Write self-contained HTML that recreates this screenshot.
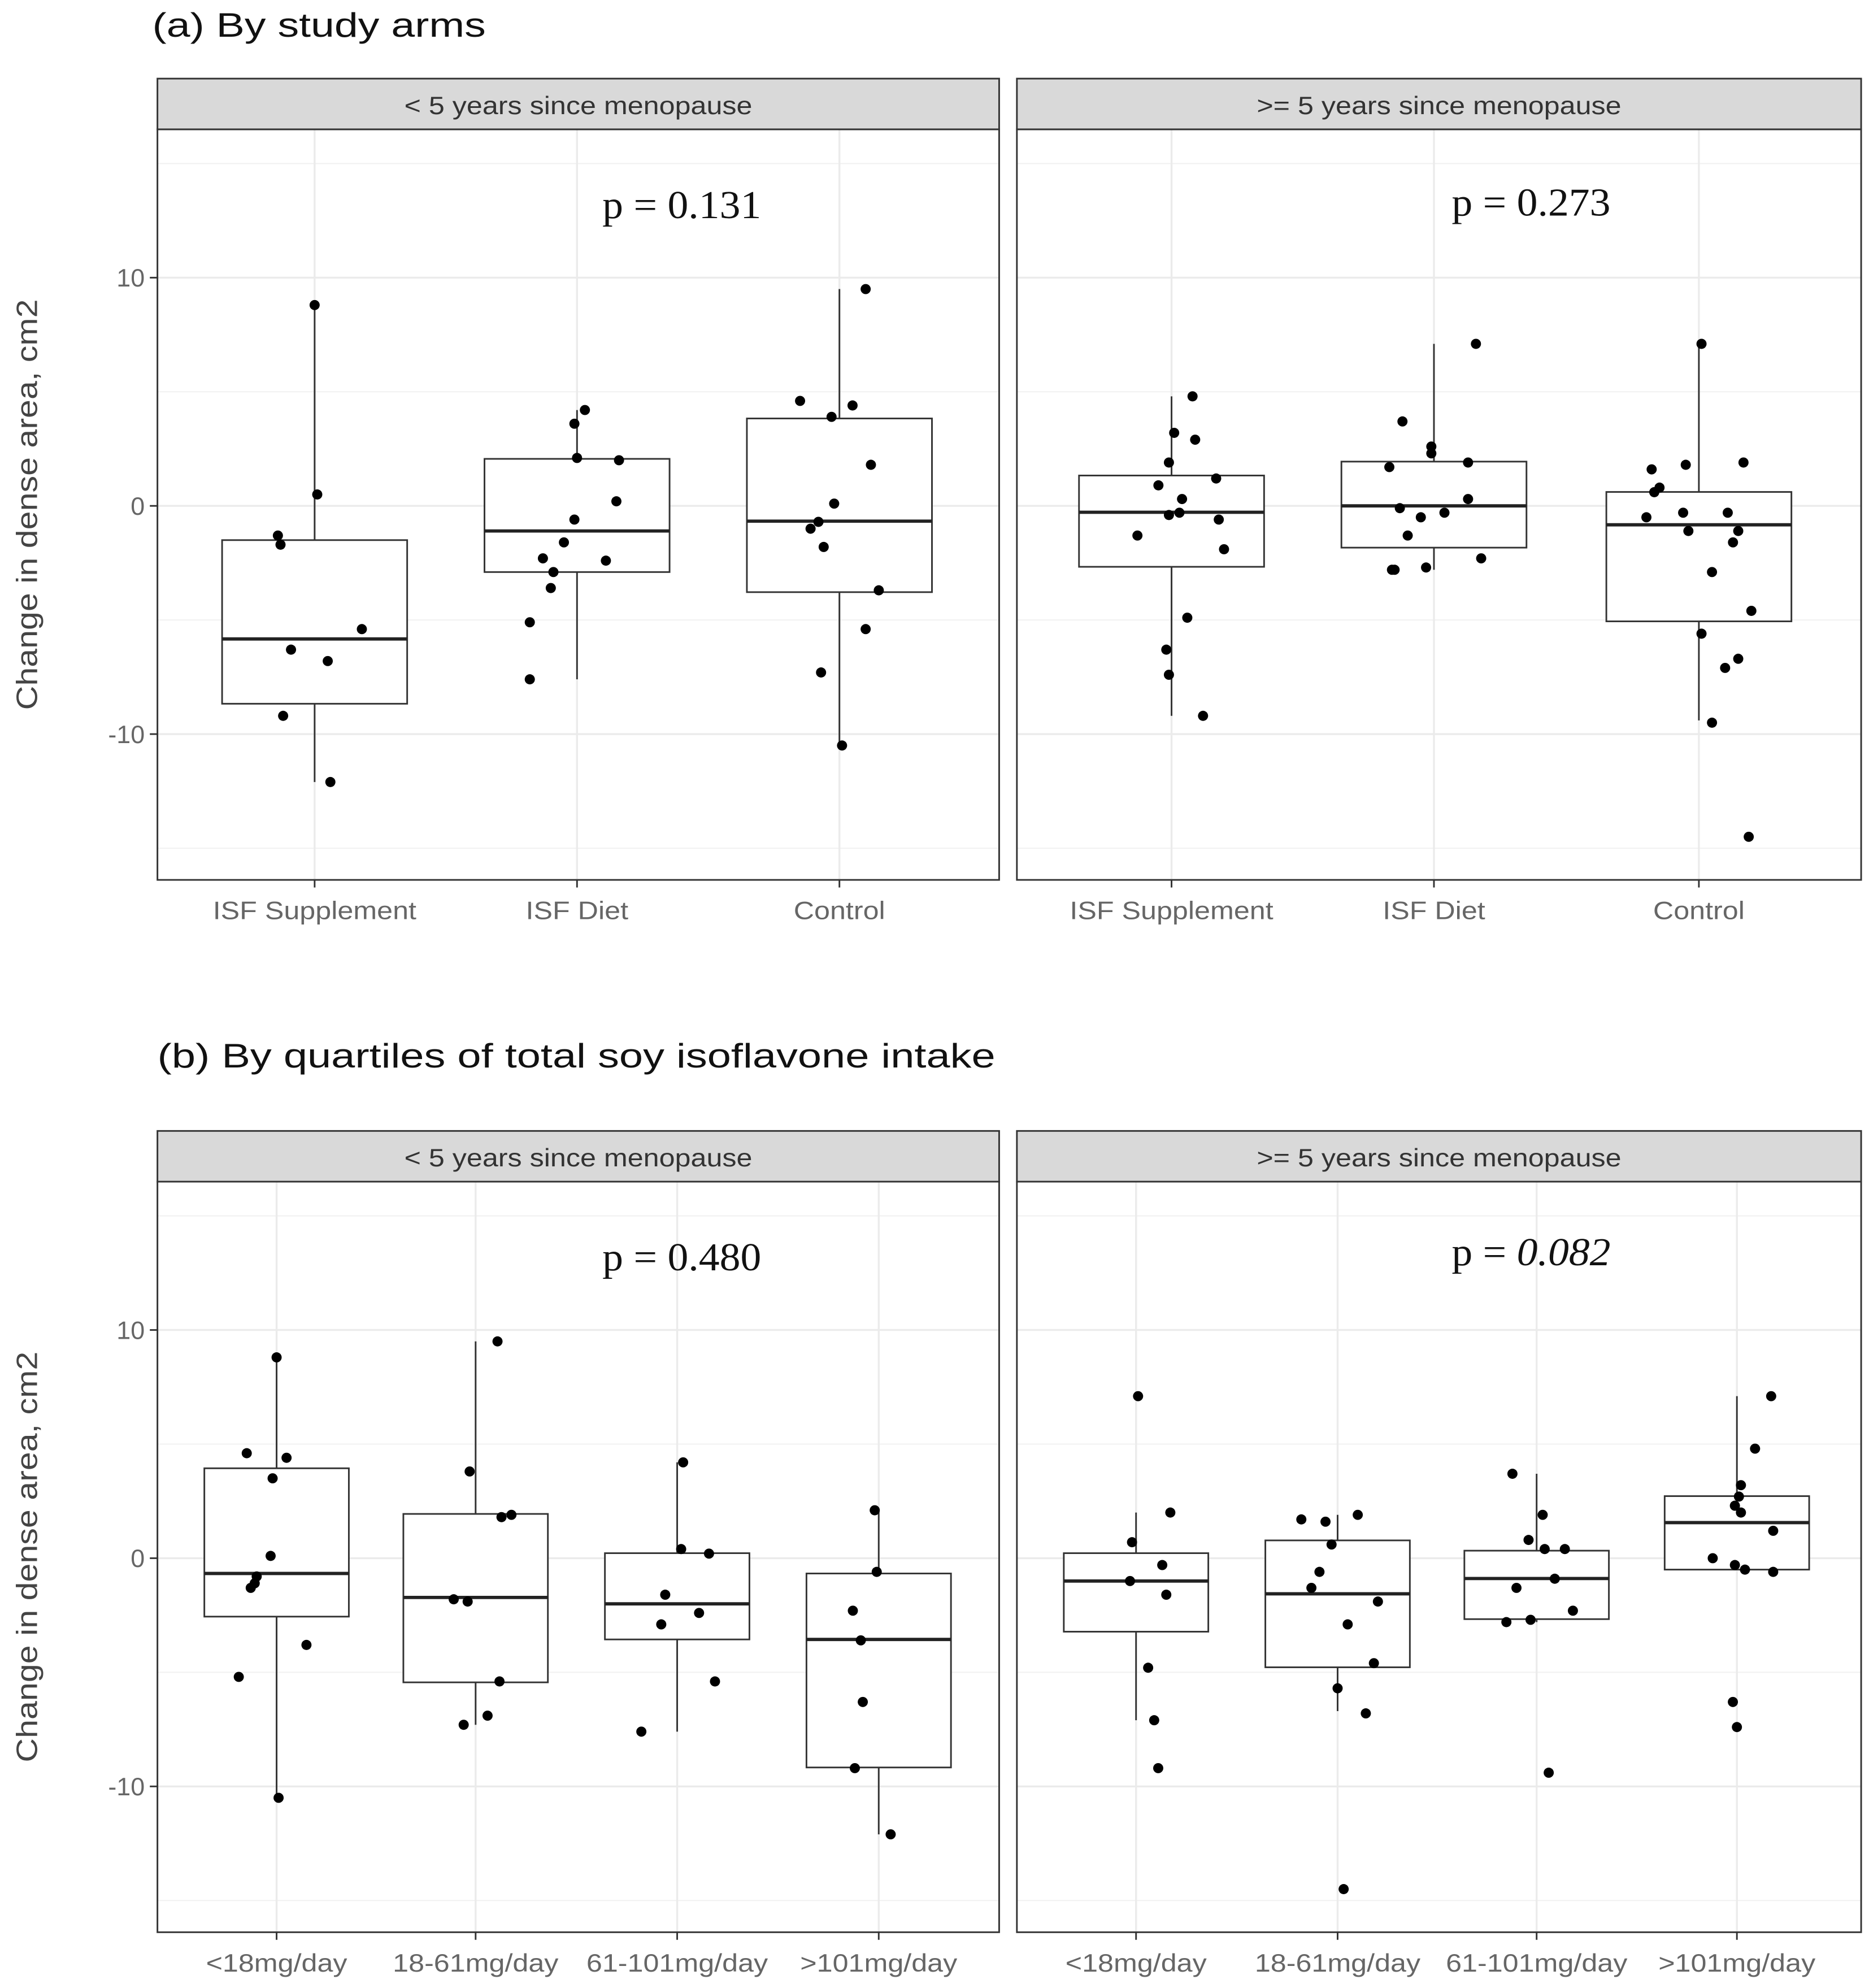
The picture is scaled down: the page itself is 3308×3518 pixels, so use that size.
<!DOCTYPE html>
<html><head><meta charset="utf-8"><style>
html,body{margin:0;padding:0;background:#fff;}
svg{display:block;}
</style></head><body>
<svg id="chart" width="3308" height="3518" viewBox="0 0 1474 1568" xmlns="http://www.w3.org/2000/svg">
<rect width="1474" height="1568" fill="#fff"/>
<text x="120" y="29" font-family="Liberation Sans, sans-serif" font-size="27" fill="#111" textLength="263" lengthAdjust="spacingAndGlyphs">(a)  By study arms</text>
<text x="124" y="842" font-family="Liberation Sans, sans-serif" font-size="27" fill="#111" textLength="661" lengthAdjust="spacingAndGlyphs">(b)  By quartiles of total soy isoflavone intake</text>
<g id="panels"></g>
</svg>
<script>
// ---- Data (values in cm2) ----
const catsA = ["ISF Supplement","ISF Diet","Control"];
const catsB = ["<18mg/day","18-61mg/day","61-101mg/day",">101mg/day"];
const yTicks = [-10, 0, 10];
const yTickLabels = ["-10","0","10"];
const stripLabels = ["< 5 years since menopause", ">= 5 years since menopause"];
const pLabels = ["p = 0.131","p = 0.273","p = 0.480","p = 0.082"];

// box stats: [whiskerLow, q1, median, q3, whiskerHigh]
const boxA1 = [[-12.1,-8.67,-5.83,-1.5,8.8],[-7.6,-2.9,-1.1,2.06,4.2],[-10.5,-3.78,-0.67,3.83,9.5]];
const boxA2 = [[-9.2,-2.67,-0.28,1.33,4.8],[-2.8,-1.83,0,1.94,7.1],[-9.4,-5.06,-0.83,0.61,7.1]];
const boxB1 = [[-10.5,-2.56,-0.67,3.94,8.8],[-7.3,-5.44,-1.72,1.94,9.5],[-7.6,-3.56,-2.0,0.22,4.2],[-12.1,-9.17,-3.56,-0.67,2.1]];
const boxB2 = [[-7.1,-3.22,-1.0,0.22,2.0],[-6.7,-4.78,-1.56,0.78,1.9],[-2.8,-2.67,-0.89,0.33,3.7],[-0.5,-0.5,1.56,2.72,7.1]];

// point values per category, and jitter (fraction of category spacing)
const ptsA1 = [[8.8,0.5,-1.3,-1.7,-5.4,-6.3,-6.8,-9.2,-12.1],
  [4.2,3.6,2.1,2.0,0.2,-0.6,-1.6,-2.3,-2.4,-2.9,-3.6,-5.1,-7.6],
  [9.5,4.6,4.4,3.9,1.8,0.1,-0.7,-1.0,-1.8,-3.7,-5.4,-7.3,-10.5]];
const jitA1 = [[0,0.01,-0.14,-0.13,0.18,-0.09,0.05,-0.12,0.06],
  [0.03,-0.01,0,0.16,0.15,-0.01,-0.05,-0.13,0.11,-0.09,-0.10,-0.18,-0.18],
  [0.10,-0.15,0.05,-0.03,0.12,-0.02,-0.08,-0.11,-0.06,0.15,0.10,-0.07,0.01]];
const ptsA2 = [[4.8,3.2,2.9,1.9,0.9,1.2,0.3,-0.3,-0.4,-0.6,-1.3,-1.9,-4.9,-6.3,-7.4,-9.2],
  [7.1,3.7,2.6,2.3,1.7,1.9,0.3,-0.1,-0.5,-0.3,-1.3,-2.3,-2.7,-2.8,-2.8],
  [7.1,1.8,1.9,1.6,0.8,0.6,-0.3,-0.5,-0.3,-1.1,-1.1,-1.6,-2.9,-4.6,-5.6,-6.7,-7.1,-9.5,-14.5]];
const jitA2 = [[0.08,0.01,0.09,-0.01,-0.05,0.17,0.04,0.03,-0.01,0.18,-0.13,0.20,0.06,-0.02,-0.01,0.12],
  [0.16,-0.12,-0.01,-0.01,-0.17,0.13,0.13,-0.13,-0.05,0.04,-0.10,0.18,-0.03,-0.15,-0.16],
  [0.01,-0.05,0.17,-0.18,-0.15,-0.17,-0.06,-0.20,0.11,-0.04,0.15,0.13,0.05,0.20,0.01,0.15,0.10,0.05,0.19]];
const ptsB1 = [[8.8,4.6,4.4,3.5,0.1,-0.8,-1.1,-1.3,-3.8,-5.2,-10.5],
  [9.5,3.8,1.9,1.8,-1.8,-1.9,-5.4,-6.9,-7.3],
  [4.2,0.4,0.2,-1.6,-2.4,-2.9,-5.4,-7.6],
  [2.1,-0.6,-2.3,-3.6,-6.3,-9.2,-12.1]];
const jitB1 = [[0,-0.15,0.05,-0.02,-0.03,-0.10,-0.11,-0.13,0.15,-0.19,0.01],
  [0.11,-0.03,0.18,0.13,-0.11,-0.04,0.12,0.06,-0.06],
  [0.03,0.02,0.16,-0.06,0.11,-0.08,0.19,-0.18],
  [-0.02,-0.01,-0.13,-0.09,-0.08,-0.12,0.06]];
const ptsB2 = [[7.1,2.0,0.7,-1.0,-0.3,-1.6,-4.8,-7.1,-9.2],
  [1.7,1.6,1.9,0.6,-0.6,-1.3,-2.9,-1.9,-4.6,-5.7,-6.8,-14.5],
  [3.7,1.9,0.8,0.4,0.4,-0.9,-1.3,-2.3,-2.8,-2.7,-9.4],
  [7.1,4.8,3.2,2.7,2.3,2.0,1.2,0,-0.3,-0.5,-0.6,-6.3,-7.4]];
const jitB2 = [[0.01,0.17,-0.02,-0.03,0.13,0.15,0.06,0.09,0.11],
  [-0.18,-0.06,0.10,-0.03,-0.09,-0.13,0.05,0.20,0.18,0,0.14,0.03],
  [-0.12,0.03,-0.04,0.04,0.14,0.09,-0.10,0.18,-0.15,-0.03,0.06],
  [0.17,0.09,0.02,0.01,-0.01,0.02,0.18,-0.12,-0.01,0.04,0.18,-0.02,0]];

// ---- Layout ----
const NS = "http://www.w3.org/2000/svg";
const root = document.getElementById('panels');
function el(tag, attrs, parent){ const e=document.createElementNS(NS,tag); for(const k in attrs) e.setAttribute(k,attrs[k]); (parent||root).appendChild(e); return e; }
function stretch(t, f){ const w=t.getComputedTextLength(); if(w>0){ t.setAttribute('textLength', (w*f).toFixed(1)); t.setAttribute('lengthAdjust','spacingAndGlyphs'); } }

function drawPanel(cfg){
  const {x0,x1,top,cats,boxes,pts,jit,strip,pLabel,pItalic,px,py,showY,boxW,centers,zeroY,name} = cfg;
  const stripH = 40, y0 = top+stripH, yb = top+632;
  const ys = v => zeroY - v*18;
  const spacing = centers[1]-centers[0];
  const g = el('g',{});
  
  
  el('rect',{x:x0,y:y0,width:x1-x0,height:yb-y0,fill:'#fff'},g);
  [-15,-5,5,15].forEach(v=>{ const y=ys(v); if(y>y0&&y<yb){ const l=el('line',{x1:x0,x2:x1,y1:y,y2:y,stroke:'#f2f2f2','stroke-width':1},g);   }});
  yTicks.forEach(v=>{ const y=ys(v); const l=el('line',{x1:x0,x2:x1,y1:y,y2:y,stroke:'#ebebeb','stroke-width':1.5},g);   });
  centers.forEach(cx=>{ const l=el('line',{x1:cx,x2:cx,y1:y0,y2:yb,stroke:'#ebebeb','stroke-width':1.5},g);   });
  boxes.forEach((b,i)=>{
    const cx=centers[i];
    const bg=el('g',{},g);
    
    
    el('line',{x1:cx,x2:cx,y1:ys(b[3]),y2:ys(b[4]),stroke:'#333','stroke-width':1.3},bg);
    el('line',{x1:cx,x2:cx,y1:ys(b[1]),y2:ys(b[0]),stroke:'#333','stroke-width':1.3},bg);
    el('rect',{x:cx-boxW/2,y:ys(b[3]),width:boxW,height:ys(b[1])-ys(b[3]),fill:'#fff',stroke:'#333','stroke-width':1.3},bg);
    el('line',{x1:cx-boxW/2,x2:cx+boxW/2,y1:ys(b[2]),y2:ys(b[2]),stroke:'#222','stroke-width':2.6},bg);
  });
  pts.forEach((arr,i)=>{
    arr.forEach((v,k)=>{
      const c=el('circle',{cx:centers[i]+jit[i][k]*spacing,cy:ys(v),r:4,fill:'#000'},g);
      
      
    });
  });
  el('rect',{x:x0,y:y0,width:x1-x0,height:yb-y0,fill:'none',stroke:'#333','stroke-width':1.3},g);
  const sr=el('rect',{x:x0,y:top,width:x1-x0,height:stripH,fill:'#d9d9d9',stroke:'#333','stroke-width':1.3},g);
  
  
  const st=el('text',{x:(x0+x1)/2,y:top+28,'text-anchor':'middle','font-family':'Liberation Sans, sans-serif','font-size':20,fill:'#333'},g);
  st.textContent=strip;
  
  
  stretch(st,1.12);
  const pt=el('text',{x:px,y:py,'font-family':'Liberation Serif, serif','font-size':31,fill:'#111'},g);
  
  
  if(pItalic){ const parts=pLabel.split('= '); pt.textContent=parts[0]+'= '; const ts=el('tspan',{'font-style':'italic'},pt); ts.textContent=parts[1]; }
  else pt.textContent=pLabel;
  stretch(pt,1.06);
  centers.forEach((cx,i)=>{
    el('line',{x1:cx,x2:cx,y1:yb,y2:yb+6,stroke:'#333','stroke-width':1.3},g);
    const t=el('text',{x:cx,y:yb+31,'text-anchor':'middle','font-family':'Liberation Sans, sans-serif','font-size':20,fill:'#666'},g);
    t.textContent=cats[i];
    
    
    stretch(t,1.12);
  });
  if(showY){
    yTicks.forEach((v,i)=>{
      const y=ys(v);
      el('line',{x1:x0-6,x2:x0,y1:y,y2:y,stroke:'#333','stroke-width':1.3},g);
      const t=el('text',{x:x0-10,y:y+7,'text-anchor':'end','font-family':'Liberation Sans, sans-serif','font-size':20,fill:'#666'},g);
      t.textContent=yTickLabels[i];
      
      
    });
    const yt=el('text',{x:0,y:0,'text-anchor':'middle','font-family':'Liberation Sans, sans-serif','font-size':23,fill:'#444',transform:`translate(29,${zeroY-1}) rotate(-90)`},g);
    yt.textContent='Change in dense area, cm2';
    
    
    yt.setAttribute('textLength','324');
    yt.setAttribute('lengthAdjust','spacingAndGlyphs');
  }
}

drawPanel({name:'panel-a-under5',x0:124,x1:788,top:62,zeroY:399,cats:catsA,boxes:boxA1,pts:ptsA1,jit:jitA1,strip:stripLabels[0],pLabel:pLabels[0],px:475,py:172,showY:true,boxW:146,centers:[248,455,662]});
drawPanel({name:'panel-a-over5',x0:802,x1:1468,top:62,zeroY:399,cats:catsA,boxes:boxA2,pts:ptsA2,jit:jitA2,strip:stripLabels[1],pLabel:pLabels[1],px:1145,py:170,showY:false,boxW:146,centers:[924,1131,1340]});
drawPanel({name:'panel-b-under5',x0:124,x1:788,top:892,zeroY:1229,cats:catsB,boxes:boxB1,pts:ptsB1,jit:jitB1,strip:stripLabels[0],pLabel:pLabels[2],px:475,py:1002,showY:true,boxW:114,centers:[218,375,534,693]});
drawPanel({name:'panel-b-over5',x0:802,x1:1468,top:892,zeroY:1229,cats:catsB,boxes:boxB2,pts:ptsB2,jit:jitB2,strip:stripLabels[1],pLabel:pLabels[3],px:1145,py:998,pItalic:true,showY:false,boxW:114,centers:[896,1055,1212,1370]});
</script>
</body></html>
